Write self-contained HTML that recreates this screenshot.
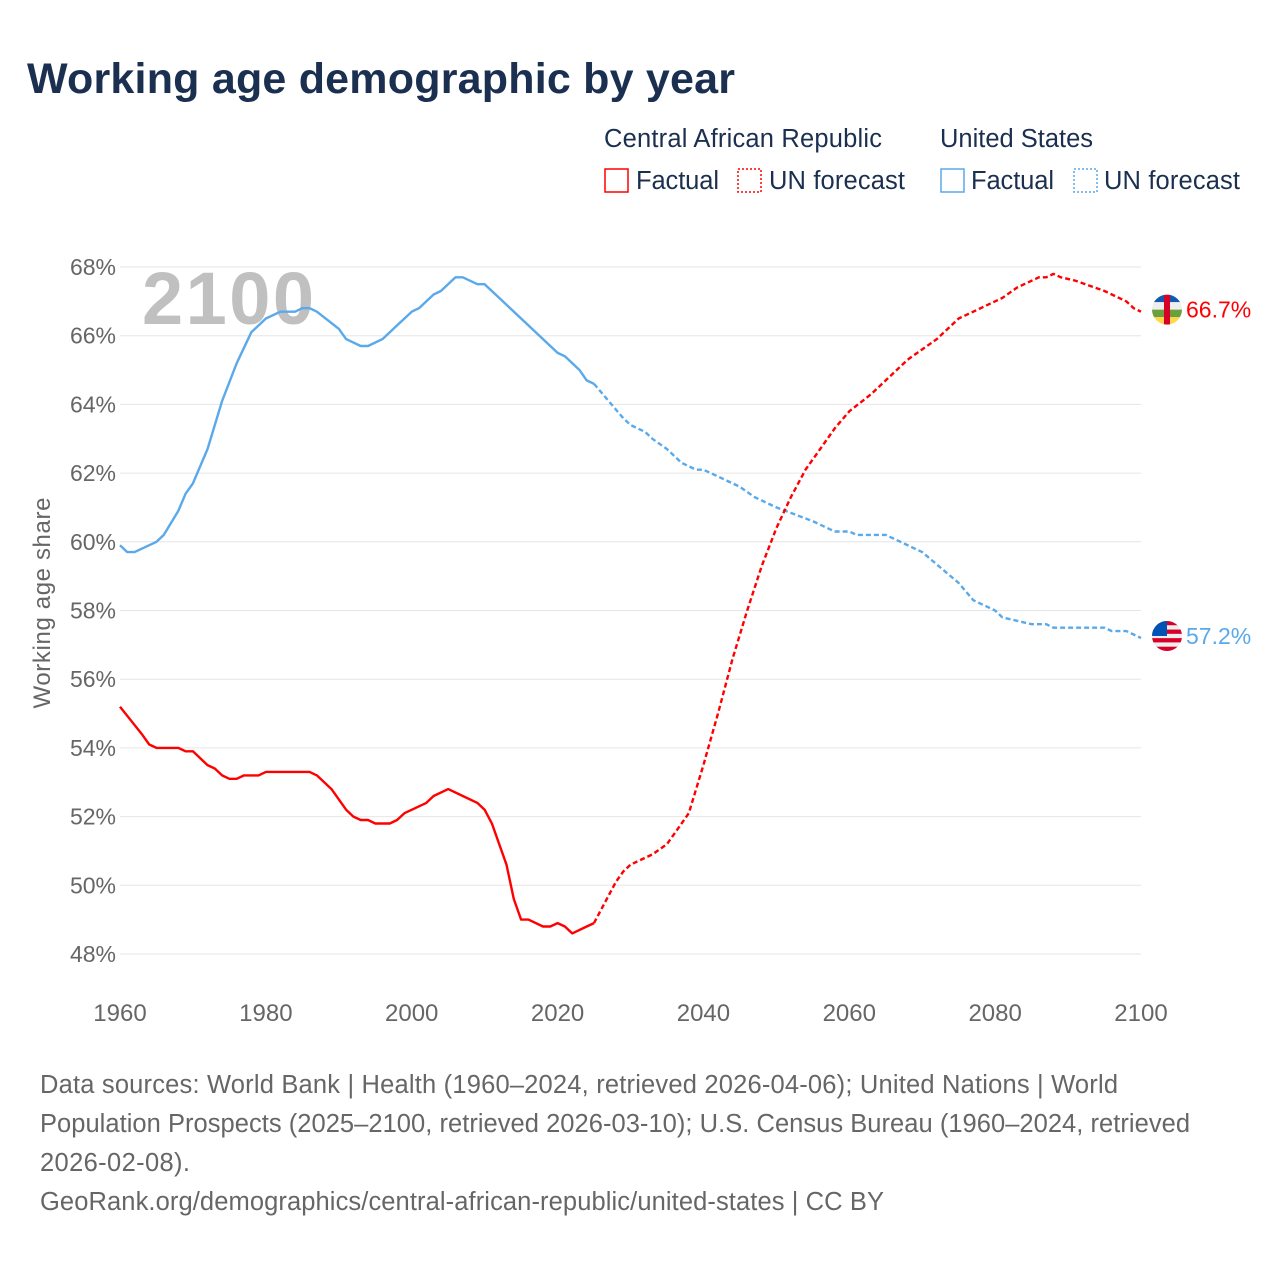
<!DOCTYPE html>
<html><head><meta charset="utf-8"><style>
body{margin:0;background:#fff;width:1280px;height:1280px;overflow:hidden;font-family:"Liberation Sans",sans-serif}
</style></head><body>
<svg id="c" width="1280" height="1280" xmlns="http://www.w3.org/2000/svg">
<text x="27" y="93" font-size="43" font-weight="bold" fill="#1b2f50" textLength="708">Working age demographic by year</text>
<g font-size="25.5" fill="#1b2f50">
<text x="604" y="147" textLength="278">Central African Republic</text>
<text x="940" y="147" textLength="153">United States</text>
<g><rect x="605" y="169" width="23" height="23" fill="none" stroke="#f00" stroke-width="1.5"/><text x="636" y="189" textLength="83">Factual</text></g>
<g><rect x="738" y="169" width="23" height="23" fill="none" stroke="#f00" stroke-width="1.5" stroke-dasharray="2,2"/><text x="769" y="189" textLength="136">UN forecast</text></g>
<g><rect x="941" y="169" width="23" height="23" fill="none" stroke="#5aa9ea" stroke-width="1.5"/><text x="971" y="189" textLength="83">Factual</text></g>
<g><rect x="1074" y="169" width="23" height="23" fill="none" stroke="#5aa9ea" stroke-width="1.5" stroke-dasharray="2,2"/><text x="1104" y="189" textLength="136">UN forecast</text></g>
</g>
<text x="142" y="324" font-size="74" font-weight="bold" fill="#c0c0c0" textLength="172">2100</text>
<g id="grid"></g><g id="axes"></g><g id="lines"></g>
<text transform="translate(50,603) rotate(-90)" text-anchor="middle" font-size="24" fill="#666" textLength="211">Working age share</text>
<g font-size="25.5" fill="#666">
<text x="40" y="1093" textLength="1078">Data sources: World Bank | Health (1960–2024, retrieved 2026-04-06); United Nations | World</text>
<text x="40" y="1132" textLength="1150">Population Prospects (2025–2100, retrieved 2026-03-10); U.S. Census Bureau (1960–2024, retrieved</text>
<text x="40" y="1171" textLength="150">2026-02-08).</text>
<text x="40" y="1210" textLength="844">GeoRank.org/demographics/central-african-republic/united-states | CC BY</text>
</g>
</svg>
<script>
const yTicks=[48,50,52,54,56,58,60,62,64,66,68];
const xTicks=[1960,1980,2000,2020,2040,2060,2080,2100];
const usYears=[1960,1961,1962,1965,1966,1968,1969,1970,1972,1974,1976,1978,1980,1982,1984,1985,1986,1987,1990,1991,1993,1994,1996,1998,2000,2001,2003,2004,2006,2007,2009,2010,2012,2016,2020,2021,2023,2024,2025];
const usVals=[59.9,59.7,59.7,60.0,60.2,60.9,61.4,61.7,62.7,64.1,65.2,66.1,66.5,66.7,66.7,66.8,66.8,66.7,66.2,65.9,65.7,65.7,65.9,66.3,66.7,66.8,67.2,67.3,67.7,67.7,67.5,67.5,67.1,66.3,65.5,65.4,65.0,64.7,64.6];
const usFcYears=[2025,2027,2029,2030,2032,2033,2035,2037,2039,2040,2042,2045,2047,2050,2055,2058,2060,2061,2065,2070,2075,2077,2080,2081,2085,2087,2088,2095,2096,2098,2100];
const usFcVals=[64.6,64.1,63.6,63.4,63.2,63.0,62.7,62.3,62.1,62.1,61.9,61.6,61.3,61.0,60.6,60.3,60.3,60.2,60.2,59.7,58.8,58.3,58.0,57.8,57.6,57.6,57.5,57.5,57.4,57.4,57.2];
const carYears=[1960,1963,1964,1965,1968,1969,1970,1972,1973,1974,1975,1976,1977,1979,1980,1986,1987,1989,1991,1992,1993,1994,1995,1997,1998,1999,2002,2003,2005,2007,2009,2010,2011,2013,2014,2015,2016,2018,2019,2020,2021,2022,2024,2025];
const carVals=[55.2,54.4,54.1,54.0,54.0,53.9,53.9,53.5,53.4,53.2,53.1,53.1,53.2,53.2,53.3,53.3,53.2,52.8,52.2,52.0,51.9,51.9,51.8,51.8,51.9,52.1,52.4,52.6,52.8,52.6,52.4,52.2,51.8,50.6,49.6,49.0,49.0,48.8,48.8,48.9,48.8,48.6,48.8,48.9];
const carFcYears=[2025,2026,2028,2029,2030,2032,2033,2035,2036,2038,2040,2042,2044,2046,2048,2050,2052,2054,2056,2058,2060,2063,2066,2068,2070,2072,2075,2078,2081,2083,2086,2087,2088,2089,2091,2095,2098,2099,2100];
const carFcVals=[48.9,49.3,50.1,50.4,50.6,50.8,50.9,51.2,51.5,52.1,53.5,55.0,56.6,58.0,59.3,60.4,61.3,62.1,62.7,63.3,63.8,64.3,64.9,65.3,65.6,65.9,66.5,66.8,67.1,67.4,67.7,67.7,67.8,67.7,67.6,67.3,67.0,66.8,66.7];
const X=y=>120+(y-1960)*(1141-120)/140;
const Y=v=>954-(v-48)*(954-267)/20;
const NS="http://www.w3.org/2000/svg";
function mk(tag,attrs,parent){const e=document.createElementNS(NS,tag);for(const k in attrs)e.setAttribute(k,attrs[k]);document.getElementById(parent).appendChild(e);return e;}
yTicks.forEach(t=>{
 const l=mk('line',{x1:120,x2:1141,y1:Y(t),y2:Y(t),stroke:'#e6e6e6','stroke-width':1},'grid');
 
 
 const tx=mk('text',{x:116,y:Y(t)+8,'text-anchor':'end','font-size':23,fill:'#666'},'axes');
 tx.textContent=t+'%';
 
 
});
xTicks.forEach(t=>{
 const tx=mk('text',{x:X(t),y:1021,'text-anchor':'middle','font-size':24,fill:'#666'},'axes');
 tx.textContent=t;
 
 
});
function line(ys,vs,color,dash,name){
 const d=ys.map((y,i)=>(i?'L':'M')+X(y).toFixed(1)+','+Y(vs[i]).toFixed(1)).join('');
 const p=mk('path',{d:d,fill:'none',stroke:color,'stroke-width':2.4,'stroke-linejoin':'round'},'lines');
 if(dash)p.setAttribute('stroke-dasharray','5,3');
 
 
}
line(usYears,usVals,'#5aa9ea',false,'us-factual-line');
line(usFcYears,usFcVals,'#5aa9ea',true,'us-forecast-line');
line(carYears,carVals,'#ff0000',false,'car-factual-line');
line(carFcYears,carFcVals,'#ff0000',true,'car-forecast-line');
const carEnd=carFcVals[carFcVals.length-1], usEnd=usFcVals[usFcVals.length-1];
function flag(v,kind){
 const cy=Y(v)-2, cx=1167;
 const g=mk('g',{},'lines');
 
 
 const cp=mk('clipPath',{id:'cp'+kind},'lines');
 const cc=document.createElementNS(NS,'circle');cc.setAttribute('cx',cx);cc.setAttribute('cy',cy);cc.setAttribute('r',15);cp.appendChild(cc);
 const add=(t,a)=>{const e=document.createElementNS(NS,t);for(const k in a)e.setAttribute(k,a[k]);e.setAttribute('clip-path','url(#cp'+kind+')');g.appendChild(e);};
 if(kind==='car'){
  const cols=['#1458b0','#eeeeee','#6aa13c','#ffd74a'];
  cols.forEach((c,i)=>add('rect',{x:cx-15,y:cy-15+i*7.5,width:30,height:7.6,fill:c}));
  add('rect',{x:cx-3,y:cy-15,width:6,height:30,fill:'#d80027'});
 } else {
  for(let i=0;i<7;i++)add('rect',{x:cx-15,y:cy-15+i*30/7,width:30,height:30/7+0.2,fill:i%2?'#eeeeee':'#d80027'});
  add('rect',{x:cx-15,y:cy-15,width:15,height:15,fill:'#0052b4'});
 }
}
flag(carEnd,'car');flag(usEnd,'us');
const t1=mk('text',{x:1186,y:Y(carEnd)+6,'font-size':23,fill:'#ff0000'},'lines');t1.textContent=carEnd.toFixed(1)+'%';


const t2=mk('text',{x:1186,y:Y(usEnd)+6,'font-size':23,fill:'#5aa9ea'},'lines');t2.textContent=usEnd.toFixed(1)+'%';


</script>
</body></html>
